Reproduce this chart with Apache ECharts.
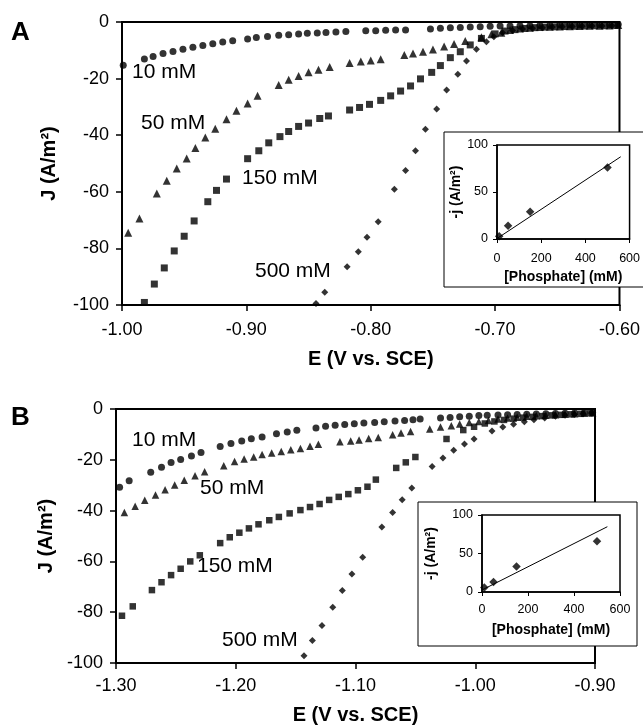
<!DOCTYPE html>
<html><head><meta charset="utf-8">
<script src="https://cdn.jsdelivr.net/npm/echarts@6/dist/echarts.min.js"></script>
<style>html,body{margin:0;padding:0;background:#fff}#c{width:643px;height:727px}</style>
</head><body><div id="c"></div>
<script>
// ---------- Panel A data ----------
const aE10=[-0.999,-0.982,-0.975,-0.967,-0.959,-0.951,-0.943,-0.935,-0.927,-0.919,-0.911,-0.899,-0.892,-0.883,-0.874,-0.866,-0.858,-0.851,-0.843,-0.836,-0.828,-0.820,-0.804,-0.796,-0.788,-0.780,-0.772,-0.752,-0.744,-0.736,-0.728,-0.720,-0.712,-0.704,-0.696,-0.688,-0.680,-0.672,-0.664,-0.656,-0.648,-0.640,-0.632,-0.624,-0.616,-0.608,-0.601];
const aJ10=[-15.3,-13.1,-12.2,-11.1,-10.4,-9.6,-8.9,-8.3,-7.7,-7.1,-6.6,-6.0,-5.5,-5.1,-4.7,-4.5,-4.2,-4.0,-3.9,-3.7,-3.5,-3.4,-3.1,-3.1,-2.9,-2.8,-2.8,-2.5,-2.2,-2.0,-1.9,-1.8,-1.7,-1.5,-1.4,-1.4,-1.3,-1.3,-1.2,-1.2,-1.1,-1.1,-1.1,-1.0,-1.0,-1.0,-0.9];
const aE50=[-0.995,-0.986,-0.972,-0.964,-0.956,-0.948,-0.941,-0.933,-0.925,-0.916,-0.908,-0.899,-0.891,-0.874,-0.866,-0.858,-0.850,-0.842,-0.833,-0.817,-0.808,-0.800,-0.792,-0.773,-0.766,-0.758,-0.750,-0.741,-0.733,-0.724,-0.711,-0.703,-0.695,-0.688,-0.680,-0.672,-0.664,-0.656,-0.648,-0.640,-0.632,-0.624,-0.616,-0.608,-0.601];
const aJ50=[-74.5,-69.4,-60.6,-56.1,-51.8,-48.2,-44.5,-40.8,-37.7,-34.4,-31.4,-28.8,-26.1,-22.3,-20.4,-19.1,-17.8,-16.9,-15.9,-14.5,-14.0,-13.6,-13.2,-11.7,-11.1,-10.5,-9.7,-8.7,-7.8,-6.7,-5.4,-4.3,-3.8,-2.8,-2.3,-2.0,-1.8,-1.7,-1.6,-1.5,-1.4,-1.3,-1.3,-1.2,-1.1];
const aE150=[-0.982,-0.974,-0.966,-0.958,-0.950,-0.942,-0.931,-0.924,-0.916,-0.899,-0.890,-0.882,-0.873,-0.866,-0.858,-0.850,-0.841,-0.834,-0.817,-0.809,-0.801,-0.792,-0.784,-0.776,-0.768,-0.760,-0.751,-0.744,-0.736,-0.728,-0.720,-0.711,-0.700,-0.692,-0.684,-0.676,-0.668,-0.660,-0.652,-0.644,-0.636,-0.628,-0.620,-0.612,-0.604];
const aJ150=[-99.1,-92.6,-86.9,-80.9,-75.7,-70.3,-63.5,-59.5,-55.5,-48.3,-45.5,-42.7,-40.5,-38.7,-36.9,-35.7,-34.1,-33.2,-31.1,-30.2,-29.1,-27.7,-26.1,-24.4,-22.6,-20.1,-17.8,-15.4,-12.6,-10.5,-8.1,-5.8,-4.2,-3.2,-2.7,-2.3,-2.0,-1.8,-1.7,-1.6,-1.5,-1.4,-1.3,-1.3,-1.2];
const aE500=[-0.844,-0.837,-0.819,-0.810,-0.803,-0.794,-0.781,-0.772,-0.764,-0.756,-0.747,-0.739,-0.730,-0.723,-0.715,-0.707,-0.701,-0.694,-0.686,-0.678,-0.670,-0.662,-0.654,-0.646,-0.638,-0.630,-0.622,-0.614,-0.606];
const aJ500=[-99.5,-95.5,-86.5,-81.2,-76.1,-70.6,-59.1,-52.5,-45.5,-37.9,-30.7,-24.0,-18.5,-13.8,-9.6,-7.0,-5.2,-3.8,-3.0,-2.5,-2.2,-2.0,-1.8,-1.7,-1.6,-1.5,-1.4,-1.4,-1.3];
// inset A
const insAConc=[10,50,150,500];
const insAJ=[3,14,29,76];
const insAFitX=[0,560];
const insAFitY=[0.5,87.5];

// ---------- Panel B data ----------
const bE10=[-1.297,-1.289,-1.271,-1.262,-1.254,-1.246,-1.237,-1.229,-1.213,-1.204,-1.195,-1.187,-1.178,-1.166,-1.157,-1.149,-1.133,-1.125,-1.117,-1.109,-1.101,-1.093,-1.084,-1.076,-1.067,-1.059,-1.052,-1.046,-1.029,-1.021,-1.013,-1.005,-0.997,-0.990,-0.981,-0.973,-0.965,-0.957,-0.949,-0.941,-0.933,-0.925,-0.917,-0.909,-0.902];
const bJ10=[-30.8,-28.2,-24.9,-22.9,-21.1,-19.9,-18.5,-17.1,-14.8,-13.6,-12.6,-11.7,-11.0,-9.7,-9.1,-8.4,-7.5,-6.8,-6.4,-6.1,-5.8,-5.5,-5.3,-5.0,-4.7,-4.5,-4.2,-3.9,-3.5,-3.3,-3.1,-2.9,-2.6,-2.5,-2.4,-2.3,-2.2,-2.1,-2.0,-1.9,-1.8,-1.7,-1.6,-1.5,-1.4];
const bE50=[-1.293,-1.284,-1.276,-1.267,-1.259,-1.251,-1.243,-1.234,-1.226,-1.210,-1.201,-1.193,-1.185,-1.178,-1.170,-1.162,-1.154,-1.146,-1.138,-1.131,-1.113,-1.104,-1.097,-1.089,-1.081,-1.069,-1.062,-1.054,-1.038,-1.029,-1.020,-1.013,-1.005,-0.997,-0.989,-0.981,-0.973,-0.965,-0.957,-0.949,-0.941,-0.933,-0.925,-0.917,-0.909,-0.902];
const bJ50=[-40.7,-38.3,-35.9,-33.9,-31.8,-29.9,-28.1,-26.3,-24.7,-22.3,-20.7,-19.7,-18.9,-17.9,-17.3,-16.7,-16.0,-15.6,-14.7,-13.9,-12.9,-12.6,-12.2,-11.6,-11.2,-10.1,-9.4,-8.9,-7.9,-7.1,-6.6,-5.9,-5.3,-4.9,-4.5,-3.9,-3.5,-3.2,-2.9,-2.7,-2.5,-2.3,-2.1,-1.9,-1.7,-1.5];
const bE150=[-1.295,-1.286,-1.270,-1.262,-1.254,-1.246,-1.238,-1.230,-1.213,-1.205,-1.197,-1.189,-1.181,-1.172,-1.164,-1.155,-1.146,-1.138,-1.130,-1.122,-1.114,-1.106,-1.098,-1.090,-1.083,-1.066,-1.058,-1.050,-1.024,-1.010,-1.001,-0.992,-0.984,-0.976,-0.968,-0.960,-0.952,-0.944,-0.936,-0.928,-0.920,-0.912,-0.904];
const bJ150=[-81.4,-77.7,-71.3,-68.2,-65.4,-62.9,-60.0,-57.6,-52.8,-50.5,-48.7,-47.0,-45.4,-43.8,-42.5,-41.1,-39.8,-38.6,-37.4,-35.8,-34.6,-33.5,-32.0,-30.6,-27.8,-23.2,-21.0,-18.9,-11.8,-8.3,-7.0,-5.7,-4.9,-4.3,-3.8,-3.4,-3.1,-2.8,-2.5,-2.3,-2.1,-1.9,-1.7];
const bE500=[-1.143,-1.136,-1.128,-1.119,-1.111,-1.103,-1.094,-1.078,-1.069,-1.061,-1.053,-1.036,-1.027,-1.018,-1.009,-1.001,-0.986,-0.977,-0.968,-0.959,-0.951,-0.942,-0.933,-0.925,-0.917,-0.910,-0.903];
const bJ500=[-97.1,-91.1,-85.2,-78.1,-71.5,-65.0,-58.4,-46.5,-40.7,-35.7,-31.1,-22.6,-19.3,-16.2,-13.8,-11.8,-8.7,-7.1,-6.0,-5.0,-4.2,-3.5,-2.9,-2.5,-2.2,-1.9,-1.6];
// inset B
const insBConc=[10,50,150,500];
const insBJ=[6,13,33,66];
const insBFitX=[0,545];
const insBFitY=[2.6,84.8];

// tick / label texts
const seriesLabels=['10 mM','50 mM','150 mM','500 mM'];
const yTitle='J (A/m²)';
const xTitle='E (V vs. SCE)';
const insYTitle='-j (A/m²)';
const insXTitle='[Phosphate] (mM)';

const zip=(a,b)=>a.map((v,i)=>[v,b[i]]);
const FONT='"Liberation Sans", Arial, Helvetica, sans-serif';
const BLACK='#000';

function mainX(gi,min,max,nameGap,labMargin){
  return {gridIndex:gi,type:'value',min:min,max:max,interval:0.1,
    name:xTitle,nameLocation:'middle',nameGap:nameGap,
    nameTextStyle:{fontFamily:FONT,fontWeight:'bold',fontSize:20,color:BLACK,verticalAlign:'top'},
    axisLine:{show:true,onZero:false,lineStyle:{color:BLACK,width:2}},
    axisTick:{show:true,inside:false,length:6,lineStyle:{color:BLACK,width:1.5}},
    axisLabel:{fontFamily:FONT,fontSize:18,color:BLACK,margin:labMargin,formatter:v=>v.toFixed(2)},
    splitLine:{show:false}};
}
function mainY(gi,nameGap){
  return {gridIndex:gi,type:'value',min:-100,max:0,interval:20,
    name:yTitle,nameLocation:'middle',nameGap:nameGap,
    nameTextStyle:{fontFamily:FONT,fontWeight:'bold',fontSize:20,color:BLACK},
    axisLine:{show:true,onZero:false,lineStyle:{color:BLACK,width:2}},
    axisTick:{show:true,inside:false,length:6,lineStyle:{color:BLACK,width:1.5}},
    axisLabel:{fontFamily:FONT,fontSize:18,color:BLACK,margin:13},
    splitLine:{show:false}};
}
function insX(gi,nameGap,labMargin){
  return {gridIndex:gi,type:'value',min:0,max:600,interval:200,z:60,
    name:insXTitle,nameLocation:'middle',nameGap:nameGap,
    nameTextStyle:{fontFamily:FONT,fontWeight:'bold',fontSize:14,color:BLACK,verticalAlign:'top'},
    axisLine:{show:true,onZero:false,lineStyle:{color:BLACK,width:1.5}},
    axisTick:{show:true,inside:false,length:4,lineStyle:{color:BLACK,width:1}},
    axisLabel:{fontFamily:FONT,fontSize:12.5,color:BLACK,margin:labMargin},
    splitLine:{show:false}};
}
function insY(gi,nameGap){
  return {gridIndex:gi,type:'value',min:0,max:100,interval:50,z:60,
    name:insYTitle,nameLocation:'middle',nameGap:nameGap,
    nameTextStyle:{fontFamily:FONT,fontWeight:'bold',fontSize:14,color:BLACK},
    axisLine:{show:true,onZero:false,lineStyle:{color:BLACK,width:1.5}},
    axisTick:{show:true,inside:false,length:4,lineStyle:{color:BLACK,width:1}},
    axisLabel:{fontFamily:FONT,fontSize:12.5,color:BLACK,margin:9},
    splitLine:{show:false}};
}
function sc(xi,data,sym,size,z){
  return {type:'scatter',xAxisIndex:xi,yAxisIndex:xi,data:data,symbol:sym,symbolSize:size,
    itemStyle:{color:BLACK},z:z||2,silent:true};
}
function fit(xi,data){
  return {type:'line',xAxisIndex:xi,yAxisIndex:xi,data:data,symbol:'none',
    lineStyle:{color:BLACK,width:1},z:61,silent:true};
}
function txt(s,x,y,size,bold,z){
  return {type:'text',x:x,y:y,z:z||20,silent:true,
    style:{text:s,fill:BLACK,font:(bold?'bold ':'')+size+'px '+FONT,textAlign:'left',textVerticalAlign:'middle'}};
}

const chart=echarts.init(document.getElementById('c'),null,{renderer:'canvas'});
chart.setOption({
  animation:false,
  backgroundColor:'#fff',
  grid:[
    {left:122,top:22,width:502,height:283,show:true,borderColor:BLACK,borderWidth:2,backgroundColor:'transparent',z:0},
    {left:497,top:145,width:140,height:94,show:true,borderColor:BLACK,borderWidth:1.5,backgroundColor:'transparent',z:55},
    {left:116,top:409,width:479,height:254,show:true,borderColor:BLACK,borderWidth:2,backgroundColor:'transparent',z:0},
    {left:482,top:515,width:138,height:77,show:true,borderColor:BLACK,borderWidth:1.5,backgroundColor:'transparent',z:55}
  ],
  xAxis:[mainX(0,-1.0,-0.6,44,16),insX(1,31,13),mainX(2,-1.3,-0.9,42,14),insX(3,31,11)],
  yAxis:[mainY(0,63),insY(1,22),mainY(2,55),insY(3,44)],
  graphic:[
    {type:'rect',z:50,silent:true,shape:{x:444,y:132,width:222,height:155},style:{fill:'#fff',stroke:BLACK,lineWidth:1}},
    {type:'rect',z:50,silent:true,shape:{x:418,y:502,width:219,height:144},style:{fill:'#fff',stroke:BLACK,lineWidth:1}},
    txt('A',11,33,26,true),
    txt('B',11,418,26,true),
    txt(seriesLabels[0],132,72,21,false),
    txt(seriesLabels[1],141,123,21,false),
    txt(seriesLabels[2],242,178,21,false),
    txt(seriesLabels[3],255,271,21,false),
    txt(seriesLabels[0],132,440,21,false),
    txt(seriesLabels[1],200,488,21,false),
    txt(seriesLabels[2],197,566,21,false),
    txt(seriesLabels[3],222,640,21,false)
  ],
  series:[
    sc(0,zip(aE10,aJ10),'circle',7),
    sc(0,zip(aE50,aJ50),'triangle',8),
    sc(0,zip(aE150,aJ150),'rect',7),
    sc(0,zip(aE500,aJ500),'diamond',7),
    fit(1,zip(insAFitX,insAFitY)),
    sc(1,zip(insAConc,insAJ),'diamond',8.5,62),
    sc(2,zip(bE10,bJ10),'circle',7),
    sc(2,zip(bE50,bJ50),'triangle',7.5),
    sc(2,zip(bE150,bJ150),'rect',6.5),
    sc(2,zip(bE500,bJ500),'diamond',7),
    fit(3,zip(insBFitX,insBFitY)),
    sc(3,zip(insBConc,insBJ),'diamond',8.5,62)
  ]
});
</script></body></html>
